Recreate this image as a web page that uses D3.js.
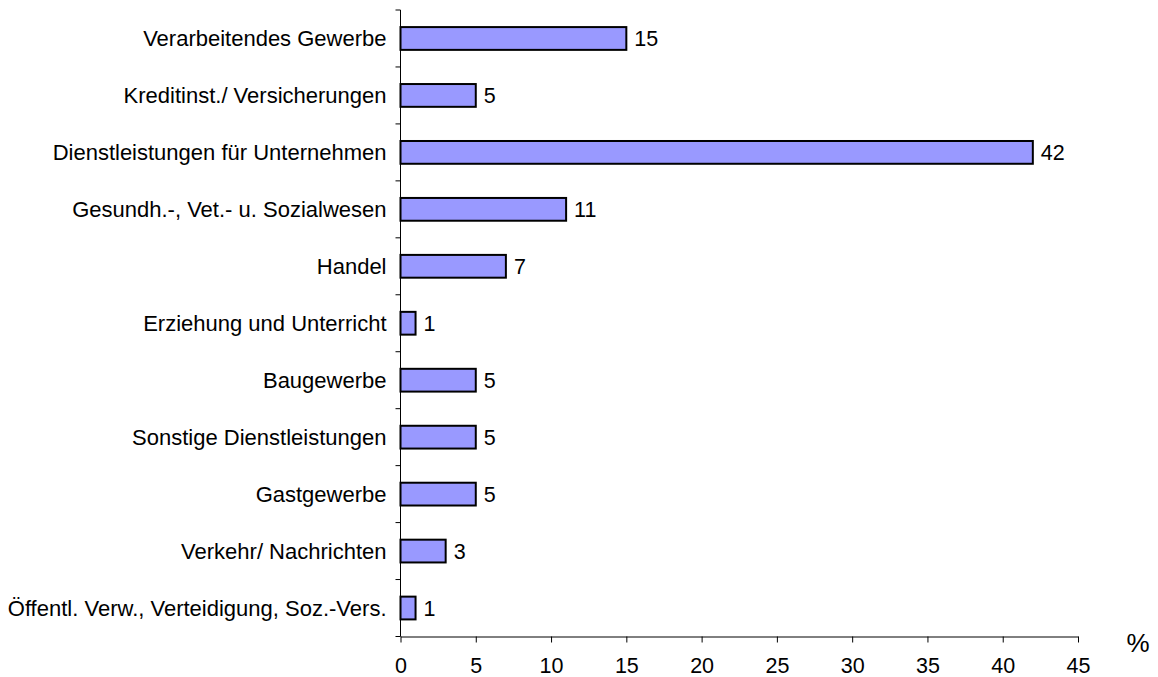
<!DOCTYPE html>
<html>
<head>
<meta charset="utf-8">
<script src="https://cdn.jsdelivr.net/npm/d3@7"></script>
<style>
  body { margin: 0; background: #fff; }
  text { font-family: "Liberation Sans", Arial, sans-serif; fill: #000; }
</style>
</head>
<body>
<svg></svg>
<script>
var categories = [
    "Verarbeitendes Gewerbe",
    "Kreditinst./ Versicherungen",
    "Dienstleistungen für Unternehmen",
    "Gesundh.-, Vet.- u. Sozialwesen",
    "Handel",
    "Erziehung und Unterricht",
    "Baugewerbe",
    "Sonstige Dienstleistungen",
    "Gastgewerbe",
    "Verkehr/ Nachrichten",
    "Öffentl. Verw., Verteidigung, Soz.-Vers."
];
var values = [15, 5, 42, 11, 7, 1, 5, 5, 5, 3, 1];
var xTicks = [0, 5, 10, 15, 20, 25, 30, 35, 40, 45];

var screen = {width: 1158, height: 677};
var margins = {top: 10, left: 400.5, right: 80, bottom: 40};
var graph = {width: 1078 - margins.left, height: 636.5 - margins.top};

var svg = d3.select("svg")
    .attr("width", screen.width)
    .attr("height", screen.height);

var xScale = d3.scaleLinear()
    .domain([0, 45])
    .range([0, graph.width]);

var yScale = d3.scaleBand()
    .domain(categories)
    .range([0, graph.height])
    .paddingInner(0.6)
    .paddingOuter(0.3);

var g = svg.append("g")
    .attr("transform", "translate(" + margins.left + "," + margins.top + ")");

// bars
g.selectAll("rect.bar")
    .data(values)
    .enter()
    .append("rect")
    .classed("bar", true)
    .attr("x", 0)
    .attr("y", function(d, i) { return yScale(categories[i]); })
    .attr("width", function(d) { return xScale(d); })
    .attr("height", yScale.bandwidth())
    .attr("fill", "#9999ff")
    .attr("stroke", "#000")
    .attr("stroke-width", 2);

// value labels
g.selectAll("text.val")
    .data(values)
    .enter()
    .append("text")
    .classed("val", true)
    .attr("x", function(d) { return xScale(d) + 8; })
    .attr("y", function(d, i) { return yScale(categories[i]) + yScale.bandwidth() / 2; })
    .attr("dy", "0.35em")
    .style("font-size", "21.5px")
    .text(function(d) { return d; });

// y axis: line, ticks between categories, labels
var step = graph.height / categories.length;
var yAxis = g.append("g").attr("fill", "none").attr("stroke", "#000").attr("stroke-width", 1);
yAxis.append("line")
    .attr("x1", 0).attr("x2", 0)
    .attr("y1", 0).attr("y2", graph.height);
yAxis.selectAll("line.tick")
    .data(d3.range(categories.length + 1))
    .enter()
    .append("line")
    .attr("x1", -5).attr("x2", 0)
    .attr("y1", function(i) { return i * step; })
    .attr("y2", function(i) { return i * step; });

g.selectAll("text.cat")
    .data(categories)
    .enter()
    .append("text")
    .classed("cat", true)
    .attr("x", -14)
    .attr("y", function(d) { return yScale(d) + yScale.bandwidth() / 2; })
    .attr("dy", "0.35em")
    .attr("text-anchor", "end")
    .style("font-size", "22px")
    .text(function(d) { return d; });

// x axis
var xAxis = d3.axisBottom(xScale)
    .tickValues(xTicks)
    .tickSize(6)
    .tickPadding(15)
    .tickSizeOuter(0);
var xg = g.append("g")
    .attr("transform", "translate(0," + graph.height + ")")
    .call(xAxis);
xg.select(".domain").attr("stroke", "#000");
xg.selectAll(".tick line").attr("stroke", "#000");
xg.selectAll(".tick text")
    .style("font-size", "21.5px")
    .style("font-family", "Liberation Sans, Arial, sans-serif")
    .attr("fill", "#000");

// unit label
svg.append("text")
    .attr("x", 1138)
    .attr("y", 643)
    .attr("dy", "0.35em")
    .attr("text-anchor", "middle")
    .style("font-size", "26px")
    .text("%");
</script>
</body>
</html>
